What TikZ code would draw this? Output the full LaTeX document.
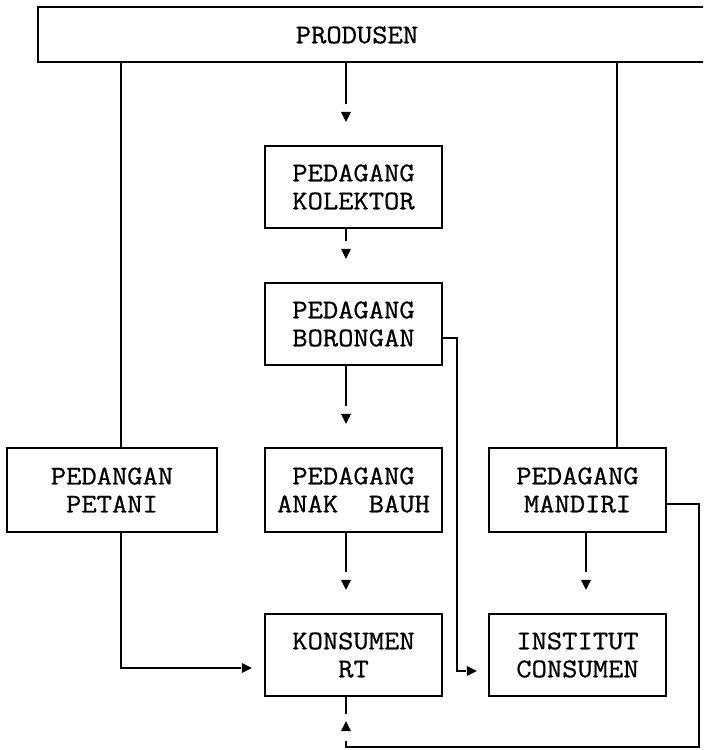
\documentclass[tikz,border=0pt]{standalone}
\usepackage{fontspec}
\newfontfamily\tw{Latin Modern Mono}[FakeStretch=1.1,FakeBold=0.8]
\usetikzlibrary{calc}
\tikzset{
  box/.style={draw, line width=1.1pt, inner sep=0pt, align=center,
    minimum width=88.5pt, minimum height=41pt,
    font=\tw\fontsize{13.5}{14}\selectfont},
  lbl/.style={inner sep=0pt, font=\tw\fontsize{13.5}{14}\selectfont},
  conn/.style={line width=1.1pt},
  pics/tridown/.style={code={\fill (0,0) -- (-5,-10) -- (5,-10) -- cycle;}},
  pics/triup/.style={code={\fill (0,0) -- (-5,10) -- (5,10) -- cycle;}},
  pics/triright/.style={code={\fill (0,0) -- (-10,-5) -- (-10,5) -- cycle;}},
}
\begin{document}
\begin{tikzpicture}[x=0.5pt,y=-0.5pt]
\useasboundingbox (0,0) rectangle (703,750);
\clip (0,0) rectangle (703,750);
% column / row helpers
\coordinate (cL) at (121,0);
\coordinate (cM) at (346,0);
\coordinate (cR) at (617,0);
\coordinate (cR2) at (586,0);
\coordinate (cB) at (457,0);
\coordinate (cE) at (699,0);
\coordinate (yBo) at (0,338);
\coordinate (yM) at (0,504);
\coordinate (yP) at (0,668);
\coordinate (yI) at (0,671);
\coordinate (yB) at (0,747);
% nodes
\node[box, minimum width=351pt, minimum height=27.5pt] (prod) at (389,34.5) {};
\node[lbl] (prodlbl) at (357,35) {PRODUSEN};
\node[box] (kol) at (353.5,187) {PEDAGANG\\KOLEKTOR};
\node[box] (bor) at (353.5,324) {PEDAGANG\\BORONGAN};
\node[box, minimum width=105pt, minimum height=42pt] (pet) at (112,490) {PEDANGAN\\PETANI};
\node[box, minimum height=42pt] (anak) at (353.5,490) {PEDAGANG\\ANAK\ \ BAUH};
\node[box, minimum height=42pt] (mand) at (577.5,490) {PEDAGANG\\MANDIRI};
\node[box] (kon) at (353.5,655) {KONSUMEN\\RT};
\node[box] (inst) at (577.5,655) {INSTITUT\\CONSUMEN};
% connectors from PRODUSEN
\draw[conn] (prod.south -| cL) -- (pet.north -| cL);
\draw[conn] (prod.south -| cR) -- (mand.north -| cR);
\draw[conn] (prod.south -| cM) -- ($(kol.north -| cM)+(0,-41)$);
\pic at ($(kol.north -| cM)+(0,-23)$) {tridown};
% central column
\draw[conn] (kol.south -| cM) -- ($(bor.north -| cM)+(0,-41)$);
\pic at ($(bor.north -| cM)+(0,-23)$) {tridown};
\draw[conn] (bor.south -| cM) -- ($(anak.north -| cM)+(0,-41)$);
\pic at ($(anak.north -| cM)+(0,-23)$) {tridown};
\draw[conn] (anak.south -| cM) -- ($(kon.north -| cM)+(0,-41)$);
\pic at ($(kon.north -| cM)+(0,-23)$) {tridown};
% mandiri to institut
\draw[conn] (mand.south -| cR2) -- ($(inst.north -| cR2)+(0,-41)$);
\pic at ($(inst.north -| cR2)+(0,-23)$) {tridown};
% petani to konsumen
\draw[conn] (pet.south -| cL) |- ($(yP -| kon.west)+(-23,0)$);
\pic at ($(yP -| kon.west)+(-12,0)$) {triright};
% borongan to institut
\draw[conn] (yBo -| bor.east) -| (yI -| cB) -- ($(yI -| inst.west)+(-22,0)$);
\pic at ($(yI -| inst.west)+(-11,0)$) {triright};
% mandiri to konsumen (bottom loop)
\draw[conn] (yM -| mand.east) -| (yB -| cE) -| ($(kon.south -| cM)+(0,44)$);
\pic at ($(kon.south -| cM)+(0,24)$) {triup};
\draw[conn] (kon.south -| cM) -- ++(0,17);
\end{tikzpicture}
\end{document}
